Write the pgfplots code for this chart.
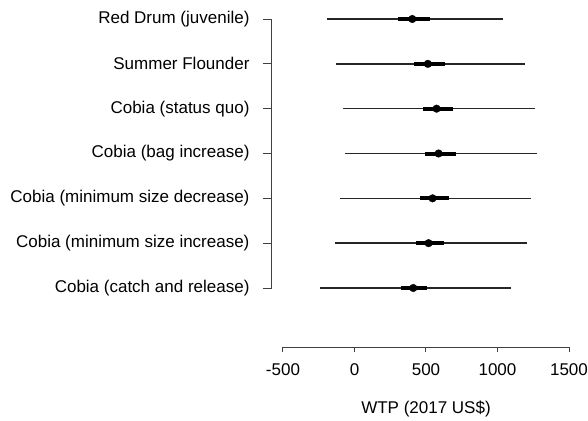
\documentclass[border=0pt]{standalone}
\usepackage{pgfplots}
\pgfplotsset{compat=1.18}
\usepackage{pgfplotstable}
\usepackage{fontspec}
\setmainfont{Liberation Sans}
\pgfplotstableread{
y med lo95 hi95 lo50 hi50
7 404 -194 1041 303 525
6 513 -131 1193 415 632
5 574 -79 1263 478 688
4 588 -65 1277 490 707
3 546 -103 1237 458 663
2 518 -135 1204 430 626
1 411 -240 1095 327 509
}\wtp
\begin{document}
\begin{tikzpicture}
\path[use as bounding box] (-283pt,-132pt) rectangle (305pt,288pt);
\begin{axis}[at={(0,0)}, anchor=south west, scale only axis,
 width=286pt, height=269pt,
 xmin=-500, xmax=1500, ymin=1, ymax=7, clip=false,
 axis x line*=bottom, axis y line*=left,
 axis x line shift=59pt, axis y line shift=11pt,
 axis line style={black!75, line width=1pt, -},
 tick align=outside,
 xtick={-500,0,500,1000,1500},
 xticklabels={-500,0,500,1000,1500},
 ytick={1,2,3,4,5,6,7},
 yticklabels={Cobia (catch and release),Cobia (minimum size increase),Cobia (minimum size decrease),Cobia (bag increase),Cobia (status quo),Summer Flounder,Red Drum (juvenile)},
 tick style={black!75, line width=1pt},
 major tick length=9pt,
 xtick style={/pgfplots/major tick length=5pt},
 ticklabel style={font=\fontsize{17}{20}\selectfont},
 yticklabel style={xshift=-10pt},
 xticklabel style={yshift=-4pt},
 xlabel={WTP (2017 US\$)},
 xlabel style={font=\fontsize{17}{20}\selectfont, at={(rel axis cs:0.5,0)}, anchor=center, yshift=-121pt},
]
\addplot[draw=none, mark=none, error bars/.cd, x dir=both, x explicit, error mark=none,
  error bar style={black!85, line width=1.5pt}]
  table[x=med, y=y, x error plus expr=\thisrow{hi95}-\thisrow{med}, x error minus expr=\thisrow{med}-\thisrow{lo95}] {\wtp};
\addplot[draw=none, mark=none, error bars/.cd, x dir=both, x explicit, error mark=none,
  error bar style={black, line width=4pt}]
  table[x=med, y=y, x error plus expr=\thisrow{hi50}-\thisrow{med}, x error minus expr=\thisrow{med}-\thisrow{lo50}] {\wtp};
\addplot[only marks, mark=*, mark size=3.8pt, black] table[x=med, y=y] {\wtp};
\end{axis}
\end{tikzpicture}
\end{document}
